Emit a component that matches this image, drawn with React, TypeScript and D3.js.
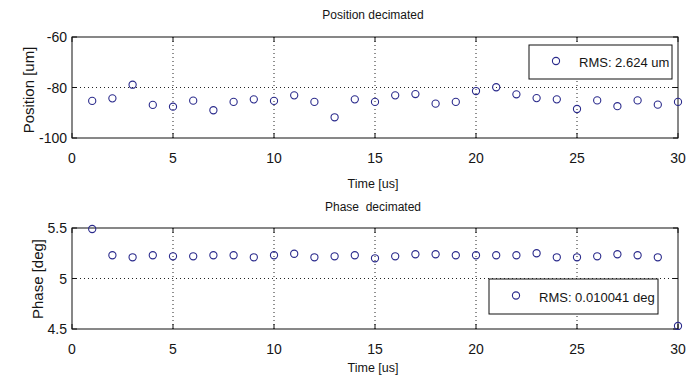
import React from "react"
import * as d3 from "d3"

const time = d3.range(1, 31)
const position = [
  -85.3, -84.3, -78.9, -86.9, -87.6, -85.2, -89.0, -85.7, -84.7, -85.3,
  -83.1, -85.7, -91.8, -84.7, -85.7, -83.1, -82.6, -86.4, -85.7, -81.4,
  -79.9, -82.7, -84.2, -84.7, -88.5, -85.1, -87.4, -85.1, -86.8, -85.7,
]
const phase = [
  5.49, 5.23, 5.21, 5.23, 5.22, 5.22, 5.23, 5.23, 5.21, 5.23,
  5.245, 5.21, 5.22, 5.23, 5.20, 5.22, 5.24, 5.24, 5.23, 5.23,
  5.23, 5.23, 5.25, 5.21, 5.21, 5.22, 5.24, 5.23, 5.21, 4.53,
]
const xTicks = [0, 5, 10, 15, 20, 25, 30]
const posTicks = [-100, -80, -60]
const phaseTicks = [4.5, 5, 5.5]

const FONT = "'Liberation Sans Narrow', 'Liberation Sans', Arial, sans-serif"
const MARKER = "#2b2b8c"
const X0 = 72
const X1 = 678

interface PanelProps {
  top: number
  bottom: number
  values: number[]
  domain: [number, number]
  yTicks: number[]
  title: string
  titleY: number
  xLabelY: number
  yLabel: string
  yLabelX: number
  yLabelMid: number
  legend: { x: number; y: number; w: number; h: number; text: string }
}

function Panel(p: PanelProps) {
  const { top, bottom, values, domain, yTicks, legend } = p
  const x = d3.scaleLinear().domain([0, 30]).range([X0, X1])
  const y = d3.scaleLinear().domain(domain).range([bottom, top])
  const gridX = xTicks.slice(1, -1)
  const gridY = yTicks.slice(1, -1)
  const tickLen = 5

  return (
    <g fontFamily={FONT} fill="#151515">
      <text x={373} y={p.titleY} textAnchor="middle" fontSize={12} style={{ whiteSpace: "pre" }}>{p.title}</text>
      {/* dotted grid */}
      {gridX.map((t) => (
        <line key={"gx" + t} x1={x(t)} x2={x(t)} y1={top} y2={bottom} stroke="#222" strokeDasharray="1,3" />
      ))}
      {gridY.map((t) => (
        <line key={"gy" + t} x1={X0} x2={X1} y1={y(t)} y2={y(t)} stroke="#222" strokeDasharray="1,3" />
      ))}
      {/* ticks, inside on all four sides */}
      {xTicks.map((t) => (
        <g key={"tx" + t}>
          <line x1={x(t)} x2={x(t)} y1={bottom} y2={bottom - tickLen} stroke="#111" />
          <line x1={x(t)} x2={x(t)} y1={top} y2={top + tickLen} stroke="#111" />
          <text x={x(t)} y={bottom + 25} textAnchor="middle" fontSize={14}>{t}</text>
        </g>
      ))}
      {yTicks.map((t) => (
        <g key={"ty" + t}>
          <line x1={X0} x2={X0 + tickLen} y1={y(t)} y2={y(t)} stroke="#111" />
          <line x1={X1} x2={X1 - tickLen} y1={y(t)} y2={y(t)} stroke="#111" />
          <text x={X0 - 5} y={y(t) + 5} textAnchor="end" fontSize={14}>{String(t)}</text>
        </g>
      ))}
      <rect x={X0} y={top} width={X1 - X0} height={bottom - top} fill="none" stroke="#111" strokeWidth={1} />
      {values.map((v, i) => (
        <circle key={i} cx={x(time[i])} cy={y(v)} r={3.6} fill="none" stroke={MARKER} strokeWidth={1.1} />
      ))}
      {/* legend */}
      <rect x={legend.x} y={legend.y} width={legend.w} height={legend.h} fill="#fff" stroke="#111" />
      <circle cx={legend.x + 27} cy={legend.y + legend.h / 2 - 1} r={3.6} fill="none" stroke={MARKER} strokeWidth={1.1} />
      <text x={legend.x + 50} y={legend.y + legend.h / 2 + 5} fontSize={13}>{legend.text}</text>
      <text x={373} y={p.xLabelY} textAnchor="middle" fontSize={12.5}>Time [us]</text>
      <text transform={`translate(${p.yLabelX},${p.yLabelMid}) rotate(-90)`} textAnchor="middle" fontSize={15}>{p.yLabel}</text>
    </g>
  )
}

export default function App() {
  return (
    <svg width={689} height={385} style={{ position: "absolute", left: 0, top: 0, background: "#fff" }}>
      <rect width={689} height={385} fill="#fff" />
      <Panel
        top={37}
        bottom={138}
        values={position}
        domain={[-100, -60]}
        yTicks={posTicks}
        title="Position decimated"
        titleY={19}
        xLabelY={188}
        yLabel="Position [um]"
        yLabelX={34}
        yLabelMid={90}
        legend={{ x: 529, y: 45, w: 143, h: 34, text: "RMS: 2.624 um" }}
      />
      <Panel
        top={228}
        bottom={329}
        values={phase}
        domain={[4.5, 5.5]}
        yTicks={phaseTicks}
        title="Phase  decimated"
        titleY={211}
        xLabelY={372}
        yLabel="Phase [deg]"
        yLabelX={43}
        yLabelMid={279}
        legend={{ x: 489, y: 279, w: 169, h: 35, text: "RMS: 0.010041 deg" }}
      />
    </svg>
  )
}
